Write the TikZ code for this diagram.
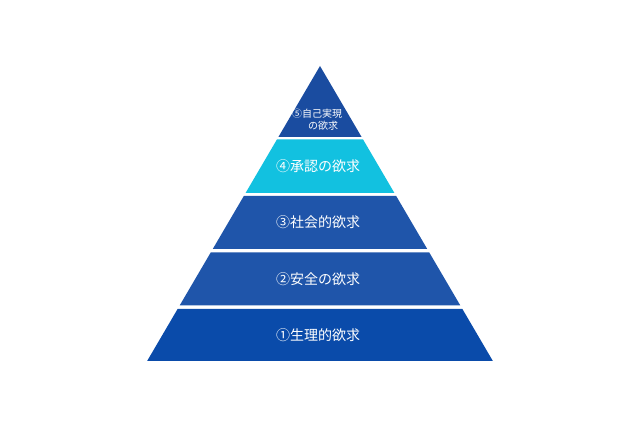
\documentclass[tikz,border=0pt]{standalone}
\usepackage{fontspec}
\newfontfamily\cjk{Noto Sans CJK JP}
\definecolor{cA}{HTML}{0A4BAA}
\definecolor{cB}{HTML}{1F55AA}
\definecolor{cC}{HTML}{12C1E0}
\definecolor{cD}{HTML}{1A4CA0}
\tikzset{lbl/.style={text=white,font=\cjk\fontsize{10.5}{12}\selectfont},
small/.style={text=white,font=\cjk\fontsize{7.5}{9}\selectfont,align=center}}
\newcommand{\hw}[1]{0.586*(#1-66)}
\newcommand{\layer}[3]{\fill[#3] ({320-\hw{#2}},#2) -- ({320+\hw{#2}},#2) -- ({320+\hw{#1}},#1) -- ({320-\hw{#1}},#1) -- cycle;}
\begin{document}
\begin{tikzpicture}[x=0.75pt,y=-0.75pt]
\useasboundingbox (0,0) rectangle (640,427);
\fill[white] (0,0) rectangle (640,427);
\layer{309}{361}{cA}
\layer{252.5}{305.5}{cB}
\layer{196}{249}{cB}
\layer{139.5}{193}{cC}
\fill[cD] (320,66) -- ({320+\hw{137}},137) -- ({320-\hw{137}},137) -- cycle;
\node[lbl] (l1) at (318,335) {①生理的欲求};
\node[lbl] (l2) at (318,279) {②安全の欲求};
\node[lbl] (l3) at (318,222.5) {③社会的欲求};
\node[lbl] (l4) at (318,166) {④承認の欲求};
\node[small] (l5) at (317,120) {⑤自己実現\\\hspace{1.2em}の欲求};
\end{tikzpicture}
\end{document}
